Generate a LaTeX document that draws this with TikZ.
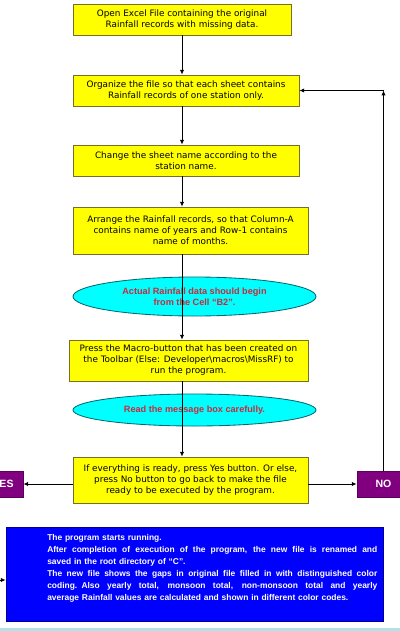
\documentclass[tikz,border=0pt]{standalone}
\usepackage{fontspec}
\setmainfont{DejaVu Sans}
\newfontfamily\headfont{Liberation Sans}
\usetikzlibrary{arrows.meta,shapes.geometric}
\newlength\px
\setlength\px{0.025cm}
\definecolor{boxyellow}{RGB}{255,255,0}
\definecolor{boxedge}{RGB}{120,110,40}
\definecolor{notecyan}{RGB}{0,255,255}
\definecolor{noteedge}{RGB}{0,105,115}
\definecolor{notered}{RGB}{205,40,60}
\definecolor{choicepurple}{RGB}{128,0,128}
\definecolor{runblue}{RGB}{0,0,255}
\definecolor{runedge}{RGB}{0,0,150}
\definecolor{capstrip}{RGB}{180,225,232}
\newcommand{\fullline}[1]{\leavevmode\hbox to 330\px{\spaceskip=0.27em plus 1fil\relax #1}}

\begin{document}
\begin{tikzpicture}[x=0.025cm, y=-0.025cm,
  font=\fontsize{6.3}{7.8}\selectfont,
  arr/.style={-{Latex[length=3.4pt,width=3pt]}, line width=0.5pt},
  stepbox/.style={draw=boxedge, fill=boxyellow, line width=0.6pt,
    align=center, inner sep=0pt},
  note/.style={ellipse, draw=noteedge, fill=notecyan, line width=0.6pt,
    align=center, inner sep=0pt, text=notered,
    font=\headfont\bfseries\fontsize{6.5}{7.8}\selectfont},
  choice/.style={draw=choicepurple!70!black, fill=choicepurple, text=white,
    line width=0.6pt, minimum height=26\px, inner sep=0pt,
    font=\headfont\bfseries\fontsize{7.5}{9}\selectfont},
  runtext/.style={text=white, align=left, inner sep=0pt,
    font=\headfont\bfseries\fontsize{6}{8.5}\selectfont}]
  \useasboundingbox (0,0) rectangle (400,631);
  \clip (0,0) rectangle (400,631);
  % steps
  \node[stepbox, minimum width=218\px, minimum height=31\px] (open) at (182,19.5)
    {Open Excel File containing the original\\Rainfall records with missing data.};
  \node[stepbox, minimum width=226\px, minimum height=31\px] (organize) at (186,90.5)
    {Organize the file so that each sheet contains\\Rainfall records of one station only.};
  \node[stepbox, minimum width=226\px, minimum height=31\px] (rename) at (186,160.5)
    {Change the sheet name according to the\\station name.};
  \node[stepbox, minimum width=235\px, minimum height=47\px] (arrange) at (190.5,230.5)
    {Arrange the Rainfall records, so that Column-A\\contains name of years and Row-1 contains\\name of months.};
  \node[note, minimum width=243\px, minimum height=39\px] (begincell) at (194.5,296.5)
    {Actual Rainfall data should begin\\from the Cell “B2”.};
  \node[stepbox, minimum width=239\px, minimum height=41\px] (macro) at (188.5,360.5)
    {Press the Macro-button that has been created on\\the Toolbar (Else: Developer\textbackslash macros\textbackslash MissRF) to\\run the program.};
  \node[note, minimum width=243\px, minimum height=32\px] (readmsg) at (194.5,410)
    {Read the message box carefully.};
  \node[stepbox, minimum width=235\px, minimum height=46\px] (ready) at (190.5,480)
    {If everything is ready, press Yes button. Or else,\\press No button to go back to make the file\\ready to be executed by the program.};
  % choices
  \node[choice, minimum width=40\px] (yes) at (3,484) {YES};
  \node[choice, minimum width=53\px] (no) at (383.5,484) {NO};
  % result
  \node[draw=runedge, fill=runblue, line width=0.6pt, minimum width=377\px,
    minimum height=94\px] (run) at (194.5,574) {};
  \node[runtext, anchor=north west, text width=330\px] (runtxt) at (47,534)
    {The program starts running.\\
     \fullline{After completion of execution of the program, the new file is renamed and}\\
     saved in the root directory of “C”.\\
     \fullline{The new file shows the gaps in original file filled in with distinguished color}\\
     \fullline{coding. Also yearly total, monsoon total, non-monsoon total and yearly}\\
     average Rainfall values are calculated and shown in different color codes.};
  % caption strip
  \fill[capstrip] (0,628) rectangle (400,631);
  % connectors
  \draw[arr] (open.south) -- (open.south |- organize.north);
  \draw[arr] (open.south |- organize.south) -- (open.south |- rename.north);
  \draw[arr] (open.south |- rename.south) -- (open.south |- arrange.north);
  \draw[arr] (open.south |- arrange.south) -- (open.south |- macro.north);
  \draw[arr] (open.south |- macro.south) -- (open.south |- ready.north);
  \draw[arr] (ready.west |- yes.east) -- (yes.east);
  \draw[arr] (ready.east |- no.west) -- (no.west);
  \coordinate (back) at (no.north |- organize.east);
  \draw[arr] (no.north) -- (back);
  \draw[arr] (back) -- (organize.east);
  \coordinate (yesdrop) at ([xshift=-14\px]yes.south);
  \coordinate (runin) at (run.west |- 0,580);
  \draw[arr] (yesdrop) |- (runin);
\end{tikzpicture}
\end{document}
